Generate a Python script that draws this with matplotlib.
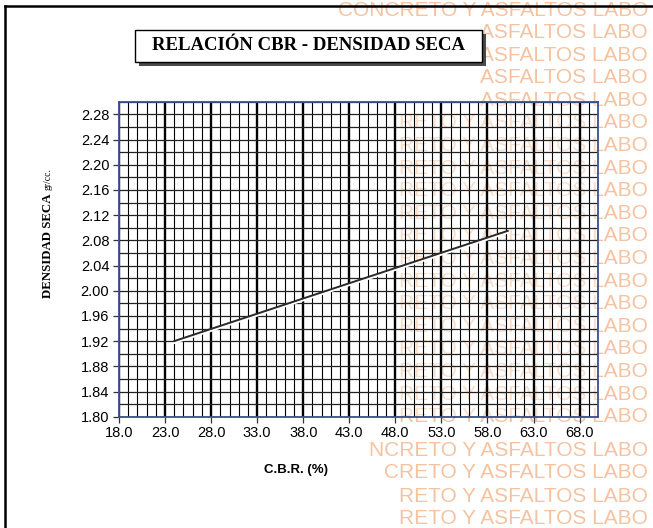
import numpy as np
import matplotlib
matplotlib.use("Agg")
import matplotlib.pyplot as plt
import matplotlib.ticker as ticker
from matplotlib.patches import Rectangle
from matplotlib.lines import Line2D
from matplotlib.transforms import offset_copy

# values
cbr_values = [24.0, 60.2]
dry_density = [1.920, 2.095]
x_ticks = [18.0, 23.0, 28.0, 33.0, 38.0, 43.0, 48.0, 53.0, 58.0, 63.0, 68.0]
y_ticks = [1.80, 1.84, 1.88, 1.92, 1.96, 2.00, 2.04, 2.08, 2.12, 2.16, 2.20, 2.24, 2.28]
title_text = "RELACIÓN CBR - DENSIDAD SECA"
x_label = "C.B.R. (%)"
y_label_main = "DENSIDAD SECA"
y_label_unit = "gr/cc."
watermark_top = "CONCRETO Y ASFALTOS LABO"
watermark_upper = "ASFALTOS LABO"
watermark_inner = "RETO Y ASFALTOS LABO"
watermark_bottom = ["NCRETO Y ASFALTOS LABO", "CRETO Y ASFALTOS LABO", "RETO Y ASFALTOS LABO",
                    "RETO Y ASFALTOS LABO"]

W, H = 653, 528


def fx(px): return px / W


def fy(py): return 1 - py / H


def draw_watermark(fig):
    # faint stamp text on the right side of the scanned sheet
    rows = [(10, watermark_top)]
    rows += [(y, watermark_upper) for y in (32.6, 55.2, 77.8, 100.4)]
    rows += [(y, watermark_inner) for y in np.arange(123, 420, 22.6)]
    rows += list(zip((450, 473, 496, 519), watermark_bottom))
    for y, text in rows:
        fig.text(fx(648), fy(y), text, ha="right", va="center", fontsize=15,
                 family="Liberation Sans", color="#f3c3a2", zorder=0)


def draw_frame_and_title(fig):
    fig.add_artist(Line2D([fx(5), fx(5)], [0, fy(6)], color="black", lw=1.8))
    fig.add_artist(Line2D([fx(5), 1], [fy(6), fy(6)], color="black", lw=1.8))
    fig.add_artist(Rectangle((fx(139), fy(66)), fx(482) - fx(135), fy(29) - fy(61),
                             transform=fig.transFigure, facecolor="#4a4a4a", edgecolor="none", zorder=3))
    fig.add_artist(Rectangle((fx(135), fy(62)), fx(482) - fx(135), fy(29) - fy(61),
                             transform=fig.transFigure, facecolor="white", edgecolor="black", lw=1.0, zorder=4))
    fig.text(fx(308.5), fy(46), title_text, ha="center", va="center", fontsize=13.5,
             family="Liberation Serif", weight="bold", zorder=5)


def plot_cbr_density():
    fig = plt.figure(figsize=(W / 100, H / 100), dpi=100)
    draw_watermark(fig)
    draw_frame_and_title(fig)

    ax = fig.add_axes([fx(119), fy(416.7), fx(598) - fx(119), fy(101.7) - fy(416.7)])
    ax.set_facecolor((1, 1, 1, 0.45))
    ax.set_zorder(2)
    ax.set_xlim(18, 70)
    ax.set_ylim(1.80, 2.30)

    ax.set_xticks(x_ticks)
    ax.set_yticks(y_ticks)
    ax.xaxis.set_minor_locator(ticker.MultipleLocator(1))
    ax.yaxis.set_minor_locator(ticker.MultipleLocator(0.02))
    ax.xaxis.set_major_formatter(ticker.FormatStrFormatter("%.1f"))
    ax.yaxis.set_major_formatter(ticker.FormatStrFormatter("%.2f"))

    ax.grid(which="major", axis="x", color="black", lw=1.7)
    ax.grid(which="minor", axis="x", color="black", lw=0.8)
    ax.grid(which="both", axis="y", color="#222222", lw=0.9)
    ax.set_axisbelow(True)

    ax.tick_params(which="major", direction="out", length=4, width=0.9, color="#333333",
                   labelsize=10.5, pad=3)
    ax.tick_params(which="minor", length=0)
    for lab in ax.get_xticklabels() + ax.get_yticklabels():
        lab.set_family("Liberation Sans")
    for sp in ax.spines.values():
        sp.set_color("#3a4f8c")
        sp.set_linewidth(1.3)

    shifted = offset_copy(ax.transData, fig=fig, x=0, y=-1.3, units="points")
    ax.plot(cbr_values, dry_density, color="white", lw=1.6, transform=shifted, zorder=3)
    ax.plot(cbr_values, dry_density, color="#2a2a2a", lw=1.4, zorder=4)

    fig.text(fx(296), fy(470), x_label, ha="center", va="center", fontsize=9.5,
             family="Liberation Sans", weight="bold")
    fig.text(fx(48), fy(298), y_label_main, ha="center", va="bottom", rotation=90,
             fontsize=9.3, family="Liberation Serif", weight="bold")
    fig.text(fx(48), fy(190), y_label_unit, ha="center", va="bottom", rotation=90,
             fontsize=7, family="Liberation Serif")

    fig.savefig("out.png", dpi=100)


if __name__ == "__main__":
    plot_cbr_density()
